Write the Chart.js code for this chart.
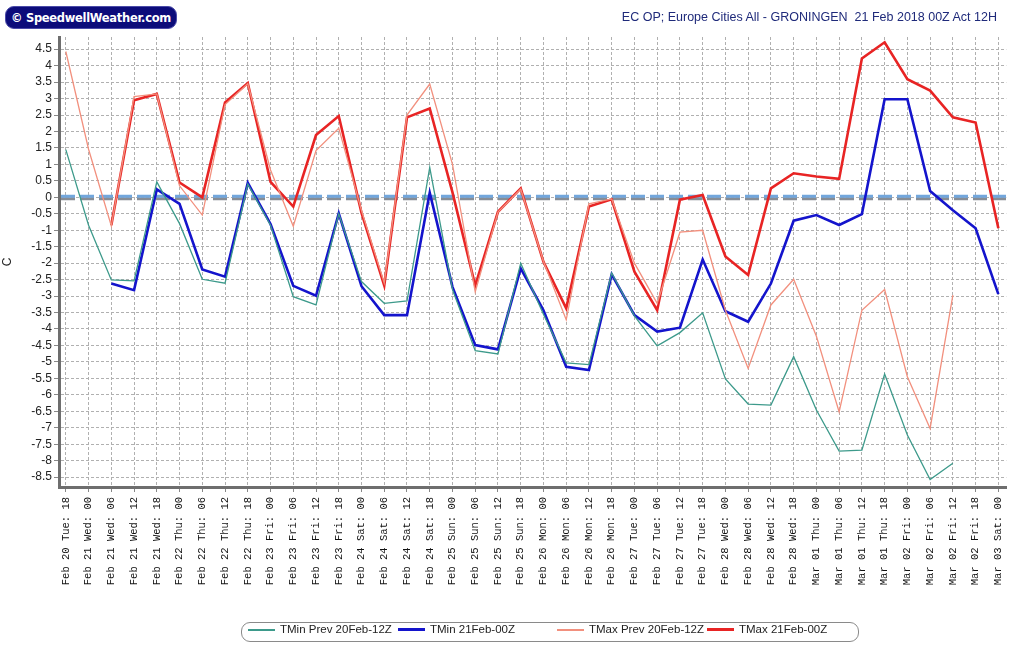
<!DOCTYPE html>
<html>
<head>
<meta charset="utf-8">
<script src="https://cdn.jsdelivr.net/npm/chart.js@4/dist/chart.umd.min.js"></script>
<style>
body{margin:0;background:#fff;}
#wrap{position:relative;width:1016px;height:655px;overflow:hidden;}
#grafico{position:absolute;left:0;top:0;}
#brand{position:absolute;left:5px;top:6px;width:170px;height:21px;display:flex;align-items:center;justify-content:center;background:#0c0c7a;border:1px solid #4a4aa8;border-radius:9px;color:#fff;font:bold 11.5px "DejaVu Sans",sans-serif;letter-spacing:-0.3px;}
#titulo{position:absolute;right:19px;top:10px;color:#1f2a7a;font:12.5px "Liberation Sans",sans-serif;white-space:pre;}
#leyenda{position:absolute;left:241px;top:622px;width:616px;height:18px;border:1px solid #8a8a8a;border-radius:9px;}
.item{position:absolute;top:0;height:18px;line-height:18px;font:11.5px "Liberation Sans",sans-serif;color:#222;white-space:nowrap;}
.item span{display:inline-block;width:27px;vertical-align:middle;margin-right:5px;}
</style>
</head>
<body>
<div id="wrap">
<canvas id="grafico" width="1016" height="655"></canvas>
<div id="brand">© SpeedwellWeather.com</div>
<div id="titulo">EC OP; Europe Cities All - GRONINGEN  21 Feb 2018 00Z Act 12H</div>
<div id="leyenda"></div>
</div>
<script>
// fechas del eje x
const tickLabels = [
'Feb 20 Tue: 18',
'Feb 21 Wed: 00','Feb 21 Wed: 06','Feb 21 Wed: 12','Feb 21 Wed: 18',
'Feb 22 Thu: 00','Feb 22 Thu: 06','Feb 22 Thu: 12','Feb 22 Thu: 18',
'Feb 23 Fri: 00','Feb 23 Fri: 06','Feb 23 Fri: 12','Feb 23 Fri: 18',
'Feb 24 Sat: 00','Feb 24 Sat: 06','Feb 24 Sat: 12','Feb 24 Sat: 18',
'Feb 25 Sun: 00','Feb 25 Sun: 06','Feb 25 Sun: 12','Feb 25 Sun: 18',
'Feb 26 Mon: 00','Feb 26 Mon: 06','Feb 26 Mon: 12','Feb 26 Mon: 18',
'Feb 27 Tue: 00','Feb 27 Tue: 06','Feb 27 Tue: 12','Feb 27 Tue: 18',
'Feb 28 Wed: 00','Feb 28 Wed: 06','Feb 28 Wed: 12','Feb 28 Wed: 18',
'Mar 01 Thu: 00','Mar 01 Thu: 06','Mar 01 Thu: 12','Mar 01 Thu: 18',
'Mar 02 Fri: 00','Mar 02 Fri: 06','Mar 02 Fri: 12','Mar 02 Fri: 18',
'Mar 03 Sat: 00'
];

const yTicks = [4.5,4,3.5,3,2.5,2,1.5,1,0.5,0,-0.5,-1,-1.5,-2,-2.5,-3,-3.5,-4,-4.5,-5,-5.5,-6,-6.5,-7,-7.5,-8,-8.5];

const tminPrev = [1.45,-0.85,-2.51,-2.54,0.47,-0.8,-2.49,-2.61,0.4,-0.85,-3.02,-3.27,-0.5,-2.56,-3.22,-3.15,0.91,-2.8,-4.66,-4.76,
-2.0,-3.55,-5.03,-5.08,-2.3,-3.6,-4.51,-4.11,-3.51,-5.52,-6.28,-6.31,-4.84,-6.46,-7.71,-7.68,-5.37,-7.22,-8.57,-8.08,null,null];

const tmin = [null,null,-2.62,-2.82,0.24,-0.2,-2.19,-2.41,0.44,-0.81,-2.69,-2.99,-0.49,-2.7,-3.58,-3.58,0.14,-2.72,-4.49,-4.62,
-2.16,-3.43,-5.15,-5.25,-2.34,-3.58,-4.08,-3.96,-1.89,-3.46,-3.78,-2.62,-0.71,-0.54,-0.84,-0.51,2.98,2.98,0.19,-0.39,-0.94,-2.94];

const tmaxPrev = [4.43,1.46,-0.87,3.06,3.14,0.35,-0.54,2.82,3.45,0.83,-0.88,1.42,2.1,-0.4,-2.6,2.5,3.44,1.0,-2.87,-0.45,
0.25,-1.95,-3.72,-0.2,-0.05,-2.0,-3.22,-1.06,-1.0,-3.43,-5.2,-3.27,-2.49,-4.22,-6.52,-3.43,-2.8,-5.45,-7.02,-2.97,null,null];

const tmax = [null,null,-0.85,2.95,3.14,0.45,0.0,2.88,3.47,0.47,-0.28,1.89,2.47,-0.47,-2.68,2.43,2.7,0.15,-2.68,-0.44,
0.27,-1.96,-3.37,-0.28,-0.06,-2.26,-3.43,-0.07,0.07,-1.8,-2.36,0.27,0.73,0.63,0.56,4.22,4.71,3.59,3.24,2.43,2.27,-0.94];

const series = [
  {name:'TMin Prev 20Feb-12Z', data:tminPrev, color:'#3d9a8b', width:1.3},
  {name:'TMin 21Feb-00Z', data:tmin, color:'#1414cc', width:2.6},
  {name:'TMax Prev 20Feb-12Z', data:tmaxPrev, color:'#f2907e', width:1.3},
  {name:'TMax 21Feb-00Z', data:tmax, color:'#e82424', width:2.6}
];
const legendLeft = [6,156,315,465];

function puntos(arr){
  return arr.map((v,i)=>({x:i,y:v}));
}

// linea punteada del cero
const lineaCero = {
  id:'lineaCero',
  beforeDatasetsDraw(chart){
    const {ctx, chartArea:a} = chart;
    const py = chart.scales.y.getPixelForValue(0);
    ctx.save();
    ctx.lineWidth = 3;
    ctx.setLineDash([14,5]);
    ctx.strokeStyle = '#878d95';
    ctx.beginPath(); ctx.moveTo(a.left+2, py+1.5); ctx.lineTo(a.right, py+1.5); ctx.stroke();
    ctx.strokeStyle = '#72a6dc';
    ctx.beginPath(); ctx.moveTo(a.left+2, py-1); ctx.lineTo(a.right, py-1); ctx.stroke();
    ctx.restore();
  }
};

const gridOpts = {color:'#b0b0b0', lineWidth:1, tickLength:5, tickBorderDash:[], tickColor:'#888'};
const borderOpts = {display:true, color:'#6e6e6e', width:3, dash:[3,2]};

const ctx = document.getElementById('grafico');

new Chart(ctx,{
  type:'line',
  data:{
    datasets: series.map((s,i)=>({
      label:s.name,
      data:puntos(s.data),
      borderColor:s.color,
      backgroundColor:s.color,
      borderWidth:s.width,
      pointRadius:0,
      tension:0,
      fill:false,
      order: s.width > 2 ? 1 : 0
    }))
  },
  options:{
    responsive:false,
    animation:false,
    layout:{padding:{top:37,right:6,bottom:55,left:0}},
    plugins:{legend:{display:false}, tooltip:{enabled:false}},
    scales:{
      x:{
        type:'linear',
        min:-0.3,
        max:41.35,
        afterBuildTicks: s => { s.ticks = tickLabels.map((t,i)=>({value:i})); },
        afterFit: s => { s.height = 113; },
        ticks:{
          autoSkip:false, maxRotation:90, minRotation:90, padding:5,
          callback: v => tickLabels[v],
          font:{family:'Liberation Mono', size:10.5},
          color:'#111'
        },
        grid:gridOpts,
        border:borderOpts
      },
      y:{
        min:-8.8,
        max:4.87,
        afterBuildTicks: s => { s.ticks = yTicks.map(v=>({value:v})); },
        afterFit: s => { s.width = 59; },
        ticks:{
          autoSkip:false,
          padding:2,
          callback: v => String(v),
          font:{family:'Liberation Sans', size:12},
          color:'#222'
        },
        title:{display:true, text:'C', color:'#222', font:{family:'Liberation Sans', size:12}, padding:{top:0,bottom:0}},
        grid:gridOpts,
        border:borderOpts
      }
    }
  },
  plugins:[lineaCero]
});

// leyenda
const ley = document.getElementById('leyenda');
series.forEach((s,i)=>{
  const d = document.createElement('div');
  d.className = 'item';
  d.style.left = legendLeft[i] + 'px';
  d.innerHTML = '<span style="border-top:' + (s.width > 2 ? 3 : 2) + 'px solid ' + s.color + '"></span>' + s.name;
  ley.appendChild(d);
});
</script>
</body>
</html>
